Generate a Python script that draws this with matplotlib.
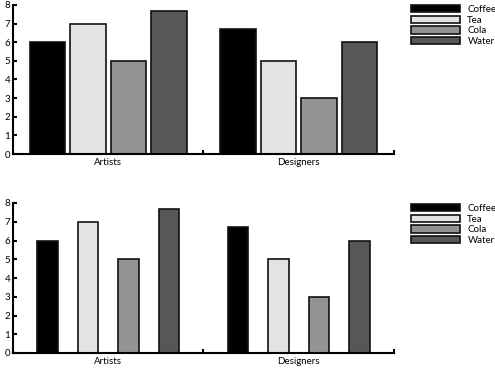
import numpy as np
import matplotlib
matplotlib.use("Agg")
import matplotlib.pyplot as plt

groups = ["Artists", "Designers"]
drinks = ["Coffee", "Tea", "Cola", "Water"]
coffee = [6.0, 6.7]
tea = [7.0, 5.0]
cola = [5.0, 3.0]
water = [7.7, 6.0]
colors = ["#000000", "#e3e3e3", "#939393", "#575757"]

plt.rcParams['font.family'] = ['Lato', 'DejaVu Sans']


def draw(ax, width):
    x = np.arange(len(groups))
    step = 0.2126
    for i, vals in enumerate([coffee, tea, cola, water]):
        ax.bar(x + (i - 1.5) * step, vals, width, color=colors[i],
               edgecolor="#111111", linewidth=1.2, label=drinks[i])
    ax.set_xlim(-0.5, 1.5)
    ax.set_ylim(0, 8)
    ax.set_yticks(range(0, 9))
    ax.set_xticks(x)
    ax.set_xticklabels(groups)
    ax.set_xticks([-0.5, 0.5, 1.5], minor=True)
    ax.tick_params(axis="x", which="major", length=0, pad=3, labelsize=7)
    ax.tick_params(axis="x", which="minor", direction="in", length=3, width=1.5)
    ax.tick_params(axis="y", direction="in", length=3, width=1.5, pad=2, labelsize=7)
    for s in ["top", "right"]:
        ax.spines[s].set_visible(False)
    for s in ["left", "bottom"]:
        ax.spines[s].set_linewidth(1.5)


fig = plt.figure(figsize=(4.95, 3.68), dpi=100)
ax1 = fig.add_axes([13 / 495, 214 / 368, 381 / 495, 149 / 368])
ax2 = fig.add_axes([13 / 495, 15 / 368, 381 / 495, 150 / 368])

for ax, w, top in [(ax1, 0.184, 5), (ax2, 0.11, 204)]:
    draw(ax, w)
    fig.legend(handles=ax.containers, labels=drinks, loc="upper left",
               bbox_to_anchor=(411 / 495, 1 - top / 368), frameon=False,
               fontsize=7, borderpad=0, borderaxespad=0, handlelength=5.0,
               handleheight=0.8, handletextpad=0.8, labelspacing=0.15)

fig.savefig("out.png", dpi=100)
